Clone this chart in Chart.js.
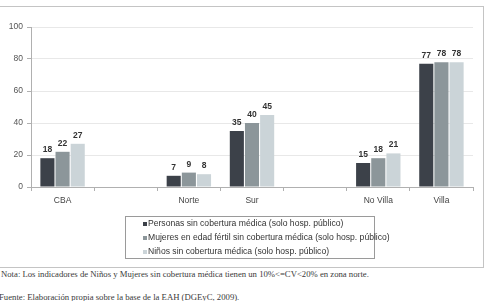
<!DOCTYPE html>
<html>
<head>
<meta charset="utf-8">
<script src="https://cdn.jsdelivr.net/npm/chart.js@4"></script>
<style>
  body { margin: 0; background: #fff; width: 487px; height: 301px; overflow: hidden; position: relative; }
  #marco { position: absolute; left: -1px; top: 6px; width: 483px; height: 260px; border: 1px solid #c4c4c4; }
  #wrap { position: absolute; left: 0; top: 7px; width: 482px; height: 259px; }
  .nota { position: absolute; left: 1px; font-family: "Liberation Serif", serif; font-size: 8.7px; color: #3a3a3a; white-space: nowrap; }
</style>
</head>
<body>
<div id="marco"></div>
<div id="wrap"><canvas id="grafico"></canvas></div>
<div class="nota" style="top:269px">Nota: Los indicadores de Niños y Mujeres sin cobertura médica tienen un 10%&lt;=CV&lt;20% en zona norte.</div>
<div class="nota" style="top:292px;left:-1px">Fuente: Elaboración propia sobre la base de la EAH (DGEyC, 2009).</div>
<script>
// datos
const zonas = ["CBA", "", "Norte", "Sur", "", "No Villa", "Villa"];
const personas = [18, null, 7, 35, null, 15, 77];
const mujeres = [22, null, 9, 40, null, 18, 78];
const ninos = [27, null, 8, 45, null, 21, 78];
const nombres = [
  "Personas sin cobertura médica (solo hosp. público)",
  "Mujeres en edad fértil sin cobertura médica (solo hosp. público)",
  "Niños sin cobertura médica (solo hosp. público)"
];
const colores = ["#3c4149", "#8c969a", "#cbd4d8"];
const ticksY = [0, 20, 40, 60, 80, 100];

// etiquetas de valor sobre cada barra
const etiquetas = {
  id: "etiquetas",
  afterDatasetsDraw(chart) {
    const ctx = chart.ctx;
    ctx.save();
    ctx.font = "bold 8.5px 'Liberation Sans', Arial, sans-serif";
    ctx.fillStyle = "#333";
    ctx.textAlign = "center";
    ctx.textBaseline = "bottom";
    chart.data.datasets.forEach((ds, i) => {
      chart.getDatasetMeta(i).data.forEach((bar, j) => {
        if (ds.data[j] == null) return;
        ctx.fillText(ds.data[j], bar.x, bar.y - 4);
      });
    });
    ctx.restore();
  }
};

// leyenda en caja debajo del eje
const leyenda = {
  id: "leyenda",
  afterDraw(chart) {
    const ctx = chart.ctx;
    const x0 = 125, y0 = 209, w = 249, h = 42;
    ctx.save();
    ctx.strokeStyle = "#9a9a9a";
    ctx.lineWidth = 1;
    ctx.strokeRect(x0 + 0.5, y0 + 0.5, w, h);
    ctx.font = "8.6px 'Liberation Sans', Arial, sans-serif";
    ctx.textBaseline = "middle";
    chart.data.datasets.forEach((ds, i) => {
      const y = y0 + 8 + i * 14;
      ctx.fillStyle = ds.backgroundColor;
      ctx.fillRect(x0 + 18, y - 2, 4, 4);
      ctx.fillStyle = "#333";
      ctx.fillText(ds.label, x0 + 23, y);
    });
    ctx.restore();
  }
};

new Chart(document.getElementById("grafico"), {
  type: "bar",
  data: {
    labels: zonas,
    datasets: nombres.map((n, i) => ({
      label: n,
      data: [personas, mujeres, ninos][i],
      backgroundColor: colores[i],
      barPercentage: 0.93,
      categoryPercentage: 0.72
    }))
  },
  options: {
    responsive: true,
    maintainAspectRatio: false,
    animation: false,
    layout: { padding: { top: 20, right: 9, bottom: 59, left: 0 } },
    plugins: { legend: { display: false }, tooltip: { enabled: false } },
    scales: {
      x: {
        afterFit(s) { s.height = 20; },
        grid: { offset: true, drawOnChartArea: false, tickLength: 4, color: "#b0b0b0" },
        border: { color: "#b0b0b0" },
        ticks: { color: "#444", font: { family: "'Liberation Sans', Arial", size: 8.5 }, padding: 5 }
      },
      y: {
        min: 0,
        max: 100,
        afterFit(s) { s.width = 31; },
        afterBuildTicks(s) { s.ticks = ticksY.map(v => ({ value: v })); },
        grid: { color: "#e8e8e8", tickLength: 4, tickColor: "#b0b0b0" },
        border: { color: "#b0b0b0" },
        ticks: { color: "#555", font: { family: "'Liberation Sans', Arial", size: 8.5 }, padding: 4 }
      }
    }
  },
  plugins: [etiquetas, leyenda]
});
</script>
</body>
</html>
